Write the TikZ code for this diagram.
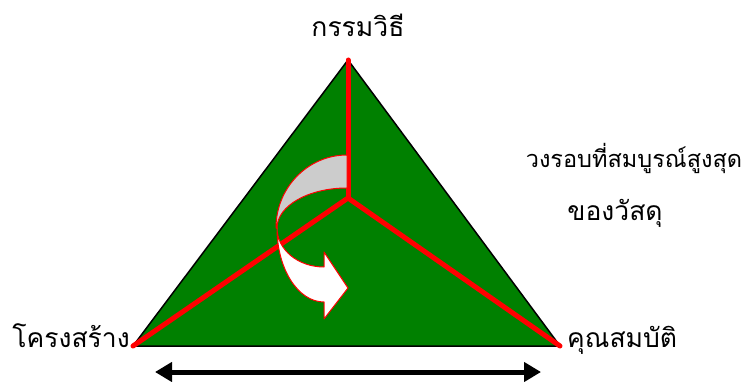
\documentclass[tikz,border=0pt]{standalone}
\usepackage{fontspec}
\newfontfamily\thaifont[Script=Thai]{Loma}
\usetikzlibrary{arrows.meta}
\definecolor{tgreen}{RGB}{0,128,0}
\definecolor{tgray}{RGB}{204,204,204}
\begin{document}
\begin{tikzpicture}[x=1pt,y=-1pt,
  lbl/.style={font=\thaifont\fontsize{26.5}{30}\selectfont, inner sep=0pt},
  lblsmall/.style={font=\thaifont\fontsize{23.5}{28}\selectfont, inner sep=0pt},
  redline/.style={draw=red, line width=5pt},
  arrpart/.style={draw=red, line width=1pt, line join=round}]
\useasboundingbox (0,0) rectangle (744,382);
\coordinate (A) at (348,60);
\coordinate (L) at (133,346);
\coordinate (R) at (560,346);
\coordinate (C) at (348,198);
\fill[tgreen, draw=black, line width=1.5pt, line join=round] (A) -- (L) -- (R) -- cycle;
\draw[redline, line cap=round] (A) -- (C);
\draw[redline, line cap=round] (L) -- (C) -- (R);
% curved arrow: grey back band
\fill[tgray, arrpart] (347,155) arc[start angle=270, end angle=180, x radius=71, y radius=73]
  -- (277,228) arc[start angle=180, end angle=270, x radius=70, y radius=40] -- cycle;
% white front part
\fill[white, arrpart] (277,228) arc[start angle=180, end angle=90, x radius=47, y radius=74]
  -- (324,319) -- (348,288) -- (324,252) -- (324,267)
  arc[start angle=90, end angle=180, x radius=47, y radius=39] -- cycle;
% double arrow
\coordinate (P1) at (155,372);
\coordinate (P2) at (541,372);
\draw[line width=5pt, {Triangle[length=17pt,width=19pt]}-{Triangle[length=17pt,width=19pt]}] (P1) -- (P2);
\node[lbl, anchor=base] (t) at (358,37) {กรรมวิธี};
\node[lbl, anchor=base east] (l) at (130,347) {โครงสร้าง};
\node[lbl, anchor=base west] (r) at (567,347) {คุณสมบัติ};
\node[lblsmall, anchor=base] (m1) at (634,168) {วงรอบที่สมบูรณ์สูงสุด};
\node[lbl, anchor=base] (m2) at (615,221) {ของวัสดุ};
\end{tikzpicture}
\end{document}
